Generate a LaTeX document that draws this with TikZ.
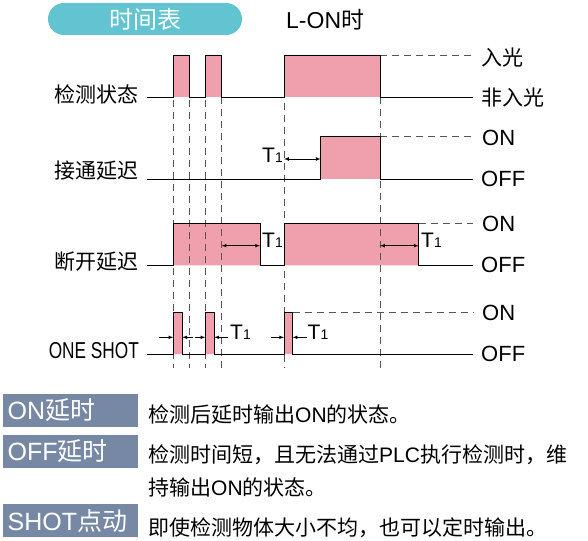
\documentclass[tikz,border=0pt]{standalone}
\usepackage{fontspec}
\setmainfont{Liberation Sans}
\newfontfamily\cjk{Noto Sans CJK SC}
\usetikzlibrary{calc,arrows}
\definecolor{pulsepink}{RGB}{240,160,173}
\definecolor{pillteal}{RGB}{98,196,208}
\definecolor{tagblue}{RGB}{118,136,164}
\definecolor{guidegray}{RGB}{85,85,85}
\newcommand{\tone}{T{\fontsize{14}{14}\selectfont 1}}

\begin{document}
\begin{tikzpicture}[>=latex,x=1pt,y=-1pt,
            wave/.style={line width=0.9pt},
            guide/.style={guidegray,line width=0.8pt,dash pattern=on 7pt off 5pt},
            span/.style={<->,line width=0.65pt},
            shot/.style={->,line width=0.65pt},
            rowlbl/.style={anchor=east,inner sep=0pt,font=\cjk\fontsize{21}{21}\selectfont},
            lvl/.style={anchor=west,inner sep=0pt,font=\fontsize{22}{22}\selectfont},
            tlbl/.style={inner sep=0pt,font=\fontsize{21}{21}\selectfont},
            tag/.style={fill=tagblue,text=white,anchor=west,inner xsep=4.5pt,inner ysep=0pt,
                minimum height=33pt,text width=125.5pt,align=left,font=\fontsize{25}{25}\selectfont},
            note/.style={anchor=west,inner sep=0pt,font=\cjk\fontsize{21}{21}\selectfont}]
            \useasboundingbox (0,0) rectangle (588,540);

            \node[fill=pillteal,rounded corners=16pt,minimum width=194pt,minimum height=32pt,
                text=white,font=\cjk\fontsize{24}{24}\selectfont] (title) at (145,19) {时间表};
            \node[anchor=west,inner sep=0pt,font=\fontsize{23}{23}\selectfont] (mode) at (286,20)
                {L-ON{\cjk 时}};

            \fill[pulsepink] (173.3,55) rectangle (189.3,97) (205.3,55) rectangle (221.7,97)
                (284,55) rectangle (380,97);
            \fill[pulsepink] (320.7,136.7) rectangle (380,179.3);
            \fill[pulsepink] (173.3,223.3) rectangle (260,265.3) (284,223.3) rectangle (418.7,265.3);
            \fill[pulsepink] (173.3,312.3) rectangle (182.3,354) (205.3,312.3) rectangle (214.3,354)
                (284,312.3) rectangle (292.7,354);

            \draw[guide] (173.3,100) -- (173.3,368);
            \draw[guide] (189.3,100) -- (189.3,368);
            \draw[guide] (205.3,100) -- (205.3,368);
            \draw[guide] (221.7,97) -- (221.7,372);
            \draw[guide] (284,55) -- (284,368);
            \draw[guide] (380,97) -- (380,372);
            \draw[guide] (380,55) -- (473,55);
            \draw[guide] (380,136.7) -- (473,136.7);
            \draw[guide] (418.7,223.3) -- (473,223.3);
            \draw[guide] (292.7,312.3) -- (473,312.3);

            \draw[wave] (146.7,97) -- (173.3,97) -- (173.3,55) -- (189.3,55) -- (189.3,97)
                -- (205.3,97) -- (205.3,55) -- (221.7,55) -- (221.7,97) -- (284,97) -- (284,55)
                -- (380,55) -- (380,97) -- (473,97);
            \draw[wave] (146.7,179.3) -- (320.7,179.3) -- (320.7,136.7) -- (380,136.7)
                -- (380,179.3) -- (473,179.3);
            \draw[wave] (146.7,265.3) -- (173.3,265.3) -- (173.3,223.3) -- (260,223.3)
                -- (260,265.3) -- (284,265.3) -- (284,223.3) -- (418.7,223.3) -- (418.7,265.3)
                -- (473,265.3);
            \draw[wave] (146.7,354) -- (173.3,354) -- (173.3,312.3) -- (182.3,312.3) -- (182.3,354)
                -- (205.3,354) -- (205.3,312.3) -- (214.3,312.3) -- (214.3,354) -- (284,354)
                -- (284,312.3) -- (292.7,312.3) -- (292.7,354) -- (473,354);

            \node[rowlbl] (detect) at (139,94) {检测状态};
            \node[rowlbl] (ondelay) at (139,171) {接通延迟};
            \node[rowlbl] (offdelay) at (139,262) {断开延迟};
            \node[rowlbl,font=\fontsize{23}{23}\selectfont,xscale=0.75] (oneshot) at (139,351) {ONE SHOT};

            \node[lvl,font=\cjk\fontsize{21}{21}\selectfont] (light) at (481,58) {入光};
            \node[lvl,font=\cjk\fontsize{21}{21}\selectfont] (dark) at (481,98) {非入光};
            \node[lvl] (on2) at (482,137.7) {ON};
            \node[lvl] (off2) at (481,178.5) {OFF};
            \node[lvl] (on3) at (482,223.5) {ON};
            \node[lvl] (off3) at (481,265) {OFF};
            \node[lvl] (on4) at (482,313) {ON};
            \node[lvl] (off4) at (481,353.5) {OFF};

            \coordinate (P) at (284,159);
            \coordinate (Q) at (320.7,159);
            \draw[span] (P) -- (Q);
            \node[tlbl,anchor=base east] (t2) at (283,162) {\tone};

            \coordinate (R) at (221.7,245.7);
            \coordinate (S) at (260,245.7);
            \draw[span] (R) -- (S);
            \node[tlbl,anchor=base west] (t3a) at (262,247.5) {\tone};
            \coordinate (U) at (380,245.7);
            \coordinate (V) at (418.7,245.7);
            \draw[span] (U) -- (V);
            \node[tlbl,anchor=base west] (t3b) at (421,247.5) {\tone};

            \draw[shot] (159.3,337.3) -- (173.3,337.3);
            \draw[shot] (193,337.3) -- (182.3,337.3);
            \draw[shot] (195.3,337.3) -- (205.3,337.3);
            \draw[shot] (228,337.3) -- (214.3,337.3);
            \draw[shot] (271,337.3) -- (284,337.3);
            \draw[shot] (306.5,337.3) -- (292.7,337.3);
            \node[tlbl,anchor=base west] (t4a) at (230,339.5) {\tone};
            \node[tlbl,anchor=base west] (t4b) at (307.5,339.5) {\tone};

            \node[tag] (tagon) at (3,410.5) {ON{\cjk 延时}};
            \node[tag] (tagoff) at (3,451.5) {OFF{\cjk 延时}};
            \node[tag] (tagshot) at (3,520.5) {SHOT{\cjk 点动}};

            \node[note] (noteon) at (148,415) {检测后延时输出{\rmfamily ON}的状态。};
            \node[note] (noteoff) at (148,455) {检测时间短，且无法通过{\rmfamily PLC}执行检测时，维};
            \node[note] (noteoff2) at (148,487) {持输出{\rmfamily ON}的状态。};
            \node[note] (noteshot) at (148,528) {即使检测物体大小不均，也可以定时输出。};
        \end{tikzpicture}
\end{document}
